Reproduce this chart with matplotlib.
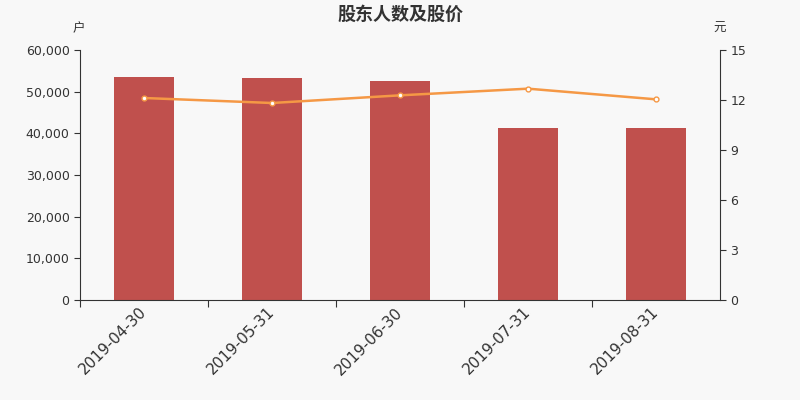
import matplotlib
matplotlib.use("Agg")
import matplotlib.pyplot as plt
from matplotlib.ticker import FuncFormatter
from matplotlib.transforms import ScaledTranslation

categories = ["2019-04-30", "2019-05-31", "2019-06-30", "2019-07-31", "2019-08-31"]
holders = [53500, 53250, 52600, 41300, 41200]
price = [12.12, 11.82, 12.28, 12.68, 12.04]
left_ticks = [0, 10000, 20000, 30000, 40000, 50000, 60000]
right_ticks = [0, 3, 6, 9, 12, 15]

plt.rcParams['font.family'] = ['DejaVu Sans']
cjk = ['Noto Sans CJK SC', 'DejaVu Sans']
bg = '#f8f8f8'
txt = '#333333'

fig = plt.figure(figsize=(8, 4), dpi=100, facecolor=bg)
ax = fig.add_axes([0.1, 0.25, 0.8, 0.625])
ax.set_facecolor(bg)
x = list(range(len(categories)))
ax.bar(x, holders, width=0.47, color='#c0504d', zorder=2)
ax.set_xlim(-0.5, len(categories) - 0.5)
ax.set_ylim(0, 60000)
ax.set_yticks(left_ticks)
ax.yaxis.set_major_formatter(FuncFormatter(lambda v, p: f"{int(v):,}"))
ax.set_xticks([i - 0.5 for i in range(len(categories))])
ax.set_xticklabels([])
ax.set_xticks(x, minor=True)
ax.set_xticklabels(categories, minor=True, rotation=45, ha='right', rotation_mode='anchor',
                   fontsize=11, color=txt)
ax.tick_params(axis='x', which='minor', length=0, pad=4)
ax.tick_params(axis='x', which='major', length=5, color=txt)
ax.tick_params(axis='y', labelsize=9, labelcolor=txt, color=txt, length=4)
off = ScaledTranslation(-0.05, 0.01, fig.dpi_scale_trans)
for lab in ax.get_xticklabels(minor=True):
    lab.set_transform(lab.get_transform() + off)
for s in ['top', 'right']:
    ax.spines[s].set_visible(False)
for s in ['left', 'bottom']:
    ax.spines[s].set_color(txt)

ax2 = ax.twinx()
ax2.plot(x, price, color='#f59845', lw=1.8, marker='o', ms=3.5,
         markerfacecolor='white', markeredgecolor='#f59845', markeredgewidth=1, zorder=3)
ax2.set_ylim(0, 15)
ax2.set_yticks(right_ticks)
ax2.tick_params(axis='y', labelsize=9, labelcolor=txt, color=txt, length=4)
for s in ['top', 'left', 'bottom']:
    ax2.spines[s].set_visible(False)
ax2.spines['right'].set_color(txt)

fig.text(0.5, 0.965, "股东人数及股价", ha='center', va='center', fontsize=13,
         fontweight='bold', color=txt, family=cjk)
fig.text(0.099, 0.928, "户", ha='center', va='center', fontsize=9, color=txt, family=cjk)
fig.text(0.899, 0.928, "元", ha='center', va='center', fontsize=9, color=txt, family=cjk)

fig.savefig("out.png", dpi=100, facecolor=bg)
